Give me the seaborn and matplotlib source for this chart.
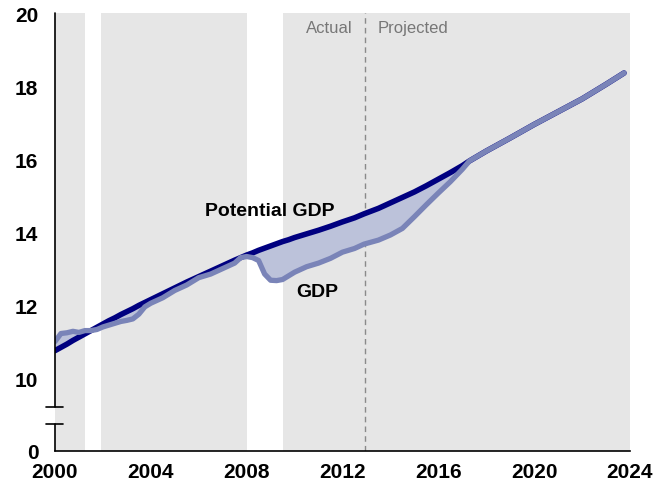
import numpy as np
import pandas as pd
import matplotlib
matplotlib.use("Agg")
import matplotlib.pyplot as plt
import seaborn as sns

# Quarter/half-year points (trillions of 2009 dollars)
years = [2000.0, 2000.25, 2000.5, 2000.75, 2001.0, 2001.25, 2001.5, 2001.75,
         2002.0, 2002.25, 2002.5, 2002.75, 2003.0, 2003.25, 2003.5, 2003.75,
         2004.0, 2004.5, 2005.0, 2005.5, 2006.0, 2006.5, 2007.0, 2007.5,
         2007.75, 2008.0, 2008.25, 2008.5, 2008.75, 2009.0, 2009.25, 2009.5,
         2009.75, 2010.0, 2010.5, 2011.0, 2011.5, 2012.0, 2012.5, 2012.9,
         2013.5, 2014.0, 2014.5, 2015.0, 2015.5, 2016.0, 2016.5, 2017.0,
         2017.3, 2018.0, 2019.0, 2020.0, 2021.0, 2022.0, 2023.0, 2023.75]
potential = [10.75, 10.84, 10.93, 11.03, 11.12, 11.21, 11.30, 11.39,
             11.48, 11.57, 11.65, 11.74, 11.82, 11.90, 11.99, 12.07,
             12.15, 12.31, 12.47, 12.63, 12.78, 12.93, 13.08, 13.23,
             13.30, 13.37, 13.43, 13.50, 13.56, 13.62, 13.68, 13.74,
             13.79, 13.85, 13.95, 14.05, 14.16, 14.28, 14.39, 14.50,
             14.65, 14.80, 14.95, 15.10, 15.27, 15.45, 15.63, 15.82,
             15.95, 16.22, 16.58, 16.95, 17.30, 17.65, 18.05, 18.36]
gdp = [11.00, 11.22, 11.24, 11.28, 11.25, 11.30, 11.30, 11.33,
       11.40, 11.45, 11.50, 11.55, 11.58, 11.62, 11.75, 11.95,
       12.05, 12.20, 12.40, 12.55, 12.75, 12.85, 13.00, 13.15,
       13.30, 13.33, 13.30, 13.22, 12.85, 12.68, 12.67, 12.70,
       12.80, 12.90, 13.05, 13.15, 13.28, 13.45, 13.55, 13.67,
       13.78, 13.92, 14.10, 14.42, 14.75, 15.07, 15.38, 15.72,
       15.95, 16.22, 16.58, 16.95, 17.30, 17.65, 18.05, 18.36]

recessions = [(2001.25, 2001.92), (2008.0, 2009.5)]
split_year = 2012.92

df = pd.DataFrame({"Year": years, "Potential": potential, "GDP": gdp})

sns.set_theme(style="white")
plt.rcParams['font.family'] = ['Liberation Sans', 'DejaVu Sans']
plt.rcParams['text.color'] = 'black'

fig = plt.figure(figsize=(6.68, 4.89), dpi=100)
ax = fig.add_axes([0.0823, 0.0757, 0.8608, 0.8953])
ax.set_facecolor("#e6e6e6")

for start, end in recessions:
    ax.axvspan(start, end, color="white", lw=0, zorder=0)

ax.axvline(split_year, color="#8a8a8a", lw=1, ls=(0, (4, 3)), zorder=1)

ax.fill_between(df["Year"], df["Potential"], df["GDP"], color="#bcc2da", lw=0, zorder=2)
sns.lineplot(data=df, x="Year", y="Potential", color="#000080", lw=4, ax=ax, zorder=3)
sns.lineplot(data=df, x="Year", y="GDP", color="#7a84b8", lw=3.8, ax=ax, zorder=4,
             solid_capstyle="round")

ax.text(2006.27, 14.58, "Potential GDP", fontsize=14, fontweight="bold", color="black",
        va="center", ha="left")
ax.text(2010.08, 12.38, "GDP", fontsize=14, fontweight="bold", color="black",
        va="center", ha="left")
ax.text(split_year - 0.5, 19.62, "Actual", fontsize=12, color="#777777", va="center", ha="right")
ax.text(split_year + 0.55, 19.62, "Projected", fontsize=12, color="#777777", va="center", ha="left")

ax.set_xlim(2000, 2024)
ax.set_ylim(8, 20)
ax.set_xticks(range(2000, 2025, 4))
ax.set_yticks([8, 10, 12, 14, 16, 18, 20])
ax.set_yticklabels(["0", "10", "12", "14", "16", "18", "20"])
ax.set_xlabel("")
ax.set_ylabel("")

for lab in ax.get_xticklabels() + ax.get_yticklabels():
    lab.set_fontweight("bold")
    lab.set_fontsize(15)
    lab.set_color("black")
ax.tick_params(axis="both", direction="in", length=6, width=1.2, color="black")
ax.tick_params(axis="y", pad=12)
ax.tick_params(axis="x", pad=8)

for side in ["top", "right", "left"]:
    ax.spines[side].set_visible(False)
ax.spines["bottom"].set_color("black")
ax.spines["bottom"].set_linewidth(1.2)

# broken y axis
ytr = ax.get_yaxis_transform()
ax.plot([0, 0], [8, 8.75], color="black", lw=1.2, transform=ytr, clip_on=False, zorder=5)
ax.plot([0, 0], [9.2, 20], color="black", lw=1.2, transform=ytr, clip_on=False, zorder=5)
for yb in [8.75, 9.2]:
    ax.plot([-0.016, 0.014], [yb, yb], color="black", lw=1.2, transform=ytr, clip_on=False, zorder=5)

fig.savefig("out.png", dpi=100)
